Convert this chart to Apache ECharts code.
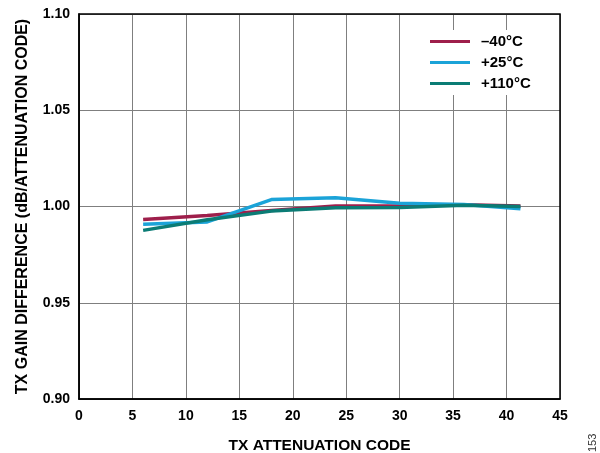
<!DOCTYPE html>
<html><head><meta charset="utf-8">
<script src="https://cdn.jsdelivr.net/npm/echarts@6/dist/echarts.min.js"></script>
<style>html,body{margin:0;padding:0;background:#fff}#c{width:600px;height:453px}</style>
</head><body><div id="c"></div>
<script>
const codes = [6, 12, 18, 24, 30, 36, 41.3];
const seriesNames = ['\u201340\u00B0C', '+25\u00B0C', '+110\u00B0C'];
const m40 = [0.9933, 0.9953, 0.9979, 1.0003, 1.0002, 1.0009, 1.0002];
const p25 = [0.9908, 0.9920, 1.0036, 1.0045, 1.0017, 1.0010, 0.9988];
const p110 = [0.9876, 0.9931, 0.9976, 0.9994, 0.9995, 1.0007, 1.0000];
const colors = ['#9E1F4B', '#1BA3D8', '#0B7C75'];
const xTicks = [0, 5, 10, 15, 20, 25, 30, 35, 40, 45];
const yTicks = [0.90, 0.95, 1.00, 1.05, 1.10];

const font = 'Liberation Sans, Arial, sans-serif';
const chart = echarts.init(document.getElementById('c'));
const mk = (name, vals, col) => ({
  name, type: 'line', data: codes.map((c, i) => [c, vals[i]]),
  symbol: 'none', lineStyle: { width: 3.5, color: col }, itemStyle: { color: col }
});
chart.setOption({
  animation: false,
  grid: { left: 79, right: 40, top: 14, bottom: 54, show: false, containLabel: false, outerBoundsMode: 'none' },
  legend: {
    left: 424, top: 30, orient: 'vertical', itemWidth: 40, itemHeight: 3, itemGap: 6,
    icon: 'rect', backgroundColor: '#fff', padding: [4, 6, 4, 6],
    textStyle: { fontFamily: font, fontWeight: 'bold', fontSize: 15, color: '#000', padding: [0, 0, 0, 6] },
    data: seriesNames
  },
  xAxis: {
    type: 'value', min: 0, max: 45, interval: 5,
    name: 'TX ATTENUATION CODE', nameLocation: 'middle', nameGap: 39,
    nameTextStyle: { fontFamily: font, fontWeight: 'bold', fontSize: 15.5, color: '#000' },
    axisLine: { show: true, lineStyle: { color: '#000', width: 1.5 } },
    axisTick: { show: false },
    axisLabel: { fontFamily: font, fontWeight: 'bold', fontSize: 14, color: '#000', margin: 10,
      formatter: v => xTicks.includes(v) ? String(v) : '' },
    splitLine: { show: true, lineStyle: { color: '#7f7f7f', width: 1 } }
  },
  yAxis: {
    type: 'value', min: 0.90, max: 1.10, interval: 0.05,
    name: 'TX GAIN DIFFERENCE (dB/ATTENUATION CODE)', nameLocation: 'middle', nameGap: 48,
    nameTextStyle: { fontFamily: font, fontWeight: 'bold', fontSize: 16, color: '#000' },
    axisLine: { show: true, lineStyle: { color: '#000', width: 1.5 } },
    axisTick: { show: false },
    axisLabel: { fontFamily: font, fontWeight: 'bold', fontSize: 14, color: '#000', margin: 9,
      formatter: v => yTicks.find(t => Math.abs(t - v) < 1e-6) !== undefined ? v.toFixed(2) : '' },
    splitLine: { show: true, lineStyle: { color: '#7f7f7f', width: 1 } }
  },
  graphic: [
    { type: 'rect', shape: { x: 79, y: 14, width: 481, height: 385 }, style: { fill: 'none', stroke: '#000', lineWidth: 1.5 }, z: 10, silent: true },
    { type: 'text', x: 587, y: 452, rotation: Math.PI / 2, style: { text: '153', fontFamily: font, fontSize: 11, fill: '#333', textAlign: 'left', textVerticalAlign: 'top' } }
  ],
  series: [mk(seriesNames[0], m40, colors[0]), mk(seriesNames[1], p25, colors[1]), mk(seriesNames[2], p110, colors[2])]
});
</script></body></html>
